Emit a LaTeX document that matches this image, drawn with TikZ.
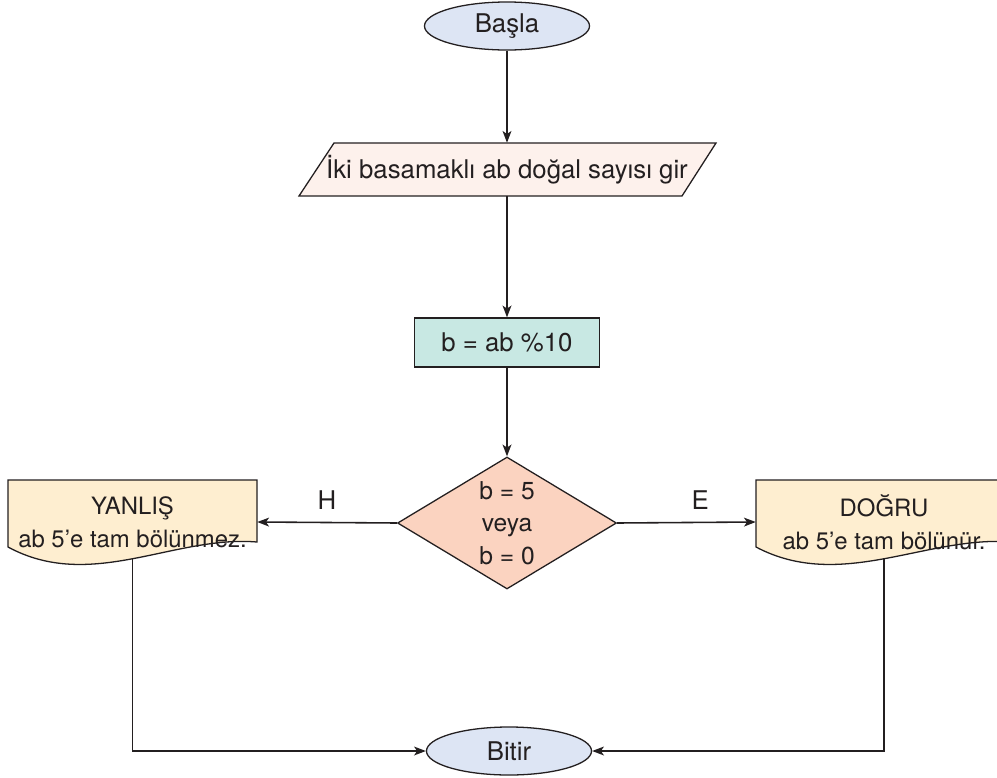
\documentclass[tikz,border=0pt]{standalone}
\usepackage{fontspec}
\setmainfont{TeX Gyre Heros}
\usetikzlibrary{shapes.geometric,arrows.meta}
\definecolor{ink}{HTML}{231F20}
\definecolor{termfill}{HTML}{DDE5F4}
\definecolor{iofill}{HTML}{FDF1EC}
\definecolor{procfill}{HTML}{C8E8E3}
\definecolor{decfill}{HTML}{FBD3C0}
\definecolor{docfill}{HTML}{FEEED0}
\begin{document}
\begin{tikzpicture}[x=0.03cm,y=-0.03cm,
  every node/.style={font=\fontsize{22}{28}\selectfont, text=ink},
  term/.style={ellipse, draw=ink, line width=1.1pt, fill=termfill,
    minimum width=4.95cm, minimum height=1.44cm, inner sep=0pt},
  proc/.style={rectangle, draw=ink, line width=1.1pt, fill=procfill,
    minimum width=5.55cm, minimum height=1.47cm, inner sep=0pt},
  dec/.style={diamond, draw=ink, line width=1.1pt, fill=decfill,
    minimum width=6.57cm, minimum height=3.96cm, inner sep=0pt},
  textbox/.style={rectangle, inner sep=0pt, align=center},
  doctext/.style={textbox, font=\fontsize{20.4}{28}\selectfont},
  shapeline/.style={draw=ink, line width=1.1pt},
  flow/.style={draw=ink, line width=1.35pt,
    -{Stealth[length=10pt,width=7.5pt,inset=2.5pt]}},
  branchlabel/.style={above=10pt, inner sep=0pt}
]
\useasboundingbox (0,0) rectangle (997,778);
\clip (0,0) rectangle (997,778);

% start terminal
\node[term] (start) at (507,26) {Başla};

% input (parallelogram)
\filldraw[shapeline, fill=iofill] (334,143) -- (716,143) -- (682,196) -- (299,196) -- cycle;
\node[textbox, minimum width=11.46cm, minimum height=1.59cm] (input) at (507,169.5)
  {İki basamaklı ab doğal sayısı gir};

% process
\node[proc] (calc) at (507,342.5) {b = ab \%10};

% decision
\node[dec] (check) at (507,523) {};
\node[textbox, font=\fontsize{21}{27.6}\selectfont] (cond) at (check.center)
  {b = 5\\veya\\b = 0};

% output documents
\filldraw[shapeline, fill=docfill] (8,480) -- (257,480) -- (257,542)
  .. controls (174,535) and (91,592) .. (8,547) -- cycle;
\node[doctext, minimum width=7.47cm, minimum height=2.52cm] (no) at (132.5,522)
  {YANLIŞ\\ab 5’e tam bölünmez.};
\coordinate (nofoot) at (132.5,558.7);

\filldraw[shapeline, fill=docfill] (756,480) -- (1012,480) -- (1012,542)
  .. controls (927,535) and (841,592) .. (756,547) -- cycle;
\node[doctext, minimum width=7.68cm, minimum height=2.52cm] (yes) at (884,522)
  {DOĞRU\\ab 5’e tam bölünür.};
\coordinate (yesfoot) at (884,558.7);

% end terminal
\node[term] (stop) at (509,751) {Bitir};

% connectors
\draw[flow] (start) -- (input);
\draw[flow] (input) -- (calc);
\draw[flow] (calc) -- (check);
\draw[flow] (check.west) -- node[branchlabel, pos=0.5] {H} (no.east);
\draw[flow] (check.east) -- node[branchlabel, pos=0.6] {E} (yes.west);
\draw[flow] (nofoot) |- (stop.west);
\draw[flow] (yesfoot) |- (stop.east);
\end{tikzpicture}
\end{document}
